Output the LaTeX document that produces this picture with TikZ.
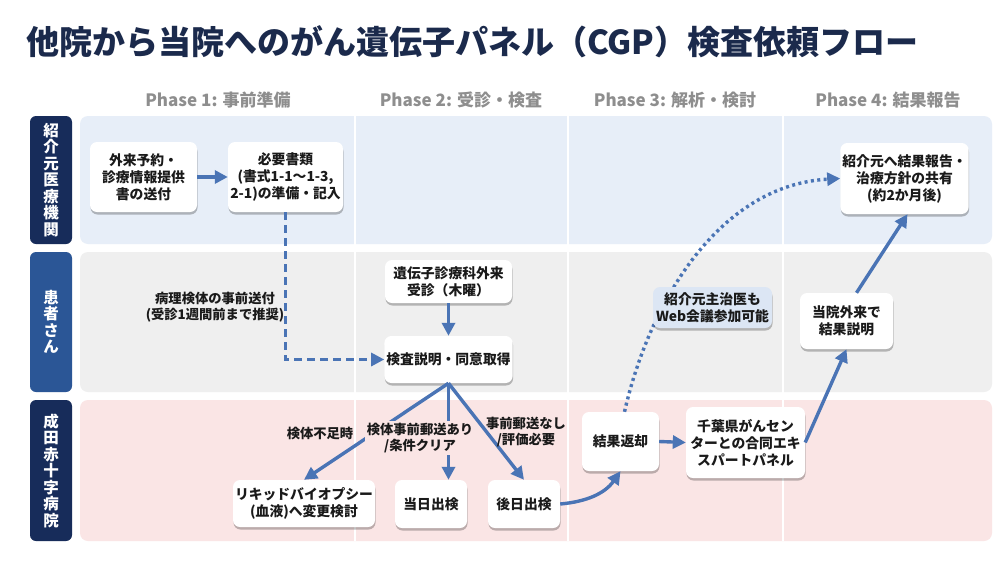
\documentclass[tikz,border=0pt]{standalone}
\usepackage{fontspec}
\setmainfont{Noto Sans CJK JP}
\usetikzlibrary{shadows,arrows.meta,calc}
\definecolor{titlec}{HTML}{1B2A4C}
\definecolor{navy}{HTML}{172C5A}
\definecolor{midblue}{HTML}{2B5696}
\definecolor{laneA}{HTML}{E7EEF8}
\definecolor{laneB}{HTML}{EFEFEF}
\definecolor{laneC}{HTML}{FAE5E5}
\definecolor{ablue}{HTML}{4A74B5}
\definecolor{txt}{HTML}{1A1A1A}
\definecolor{notefill}{HTML}{DCE6F4}
\definecolor{phasec}{HTML}{8E8E8E}
\begin{document}
\begin{tikzpicture}[x=1pt,y=-1pt,
  box/.style={fill=white, rounded corners=7pt, align=center, text=txt,
    font=\bfseries\fontsize{13.8}{17}\selectfont, inner sep=2pt,
    drop shadow={shadow xshift=0.5pt, shadow yshift=-2.5pt, opacity=0.25, fill=black}},
  notebox/.style={box, fill=notefill},
  lanelab/.style={rounded corners=6pt, text=white, align=center,
    font=\bfseries\fontsize{15.5}{16.5}\selectfont, minimum width=42pt, inner sep=0pt},
  phase/.style={text=phasec, font=\bfseries\fontsize{17}{20}\selectfont},
  elabel/.style={text=txt, align=center, font=\bfseries\fontsize{13.3}{16.5}\selectfont, inner sep=1pt},
  arr/.style={draw=ablue, line width=3.4pt, -{Triangle[length=13pt,width=13pt]}},
  dasharr/.style={draw=ablue, line width=3pt, dash pattern=on 8pt off 5pt, -{Triangle[length=13pt,width=13pt]}},
  dotarr/.style={draw=ablue, line width=3.4pt, dash pattern=on 3pt off 3.4pt, -{Triangle[length=13pt,width=13pt]}}
]
\useasboundingbox (0,0) rectangle (1000,562);
\fill[white] (0,0) rectangle (1000,562);

% title
\node[anchor=west, text=titlec, font=\bfseries\fontsize{33}{36}\selectfont, inner sep=0pt] (title) at (26,42) {他院から当院へのがん遺伝子パネル（CGP）検査依頼フロー};

% phases
\node[phase] (ph1) at (218,100) {Phase 1: 事前準備};
\node[phase] (ph2) at (461,100) {Phase 2: 受診・検査};
\node[phase] (ph3) at (675,100) {Phase 3: 解析・検討};
\node[phase] (ph4) at (888,100) {Phase 4: 結果報告};

% lanes
\fill[laneA, rounded corners=8pt] (80,116) rectangle (992,244);
\fill[laneB, rounded corners=8pt] (80,252) rectangle (992,392);
\fill[laneC, rounded corners=8pt] (80,400) rectangle (992,541);
\foreach \xx in {355,568,783} \draw[white, line width=2pt] (\xx,116) -- (\xx,541);

\node[lanelab, fill=navy, minimum height=128pt] (L1) at (51,180) {紹\\介\\元\\医\\療\\機\\関};
\node[lanelab, fill=midblue, minimum height=140pt] (L2) at (51,322) {患\\者\\さ\\ん};
\node[lanelab, fill=navy, minimum height=141pt] (L3) at (51,470.5) {成\\田\\赤\\十\\字\\病\\院};

% nodes
\node[box, minimum width=107pt, minimum height=70pt] (n1) at (143.5,177) {外来予約・\\診療情報提供\\書の送付};
\node[box, minimum width=115pt, minimum height=70pt] (n2) at (285.5,177) {必要書類\\(書式1-1〜1-3,\\2-1)の準備・記入};
\node[box, minimum width=127pt, minimum height=43pt] (n3) at (448.5,281.5) {遺伝子診療科外来\\受診（木曜）};
\node[box, minimum width=127pt, minimum height=47pt] (n4) at (448.5,359.5) {検査説明・同意取得};
\node[box, minimum width=142pt, minimum height=47pt] (n5) at (304,503.5) {リキッドバイオプシー\\(血液)へ変更検討};
\node[box, minimum width=72pt, minimum height=48pt] (n6) at (431,504) {当日出検};
\node[box, minimum width=72pt, minimum height=48pt] (n7) at (524,504) {後日出検};
\node[box, minimum width=77pt, minimum height=59pt] (n8) at (620.5,441.5) {結果返却};
\node[box, minimum width=119pt, minimum height=71pt] (n9) at (745.5,442.5) {千葉県がんセン\\ターとの合同エキ\\スパートパネル};
\node[box, minimum width=93pt, minimum height=56pt] (n10) at (846.5,321) {当院外来で\\結果説明};
\node[box, minimum width=125pt, minimum height=71pt] (n11) at (904.5,178.5) {紹介元へ結果報告・\\治療方針の共有\\(約2か月後)};

% connectors
\draw[arr] (n1.east) -- (n2.west);
\draw[dasharr] (n2.south) |- (n4.west);
\node[elabel] (lb0) at (215,307) {病理検体の事前送付\\(受診1週間前まで推奨)};
\draw[arr] (n3.south) -- (n4.north);
\draw[arr] (n4.south) -- (n5.north);
\draw[arr] (n4.south) -- (n4.south |- n6.north);
\draw[arr] (n4.south) -- (n7.north);
\node[elabel] (lb1) at (320,433) {検体不足時};
\node[elabel, fill=laneC, inner sep=2pt] (lb2) at (420,438) {検体事前郵送あり\\/条件クリア};
\node[elabel] (lb3) at (526,432) {事前郵送なし\\/評価必要};
\draw[arr] (n7.east) to[out=5,in=-125] (n8.south);
\draw[arr] (n8.east) -- (n9.west);
\draw[arr] (n9.east) -- (n10.south);
\draw[arr] ([xshift=10pt]n10.north) -- ([xshift=3pt]n11.south);
\draw[dotarr] ([xshift=4pt]n8.north) .. controls (650,300) and (720,185) .. (n11.west);
\node[notebox, minimum width=119pt, minimum height=41pt] (note) at (712.5,307.5) {紹介元主治医も\\Web会議参加可能};
\end{tikzpicture}
\end{document}
